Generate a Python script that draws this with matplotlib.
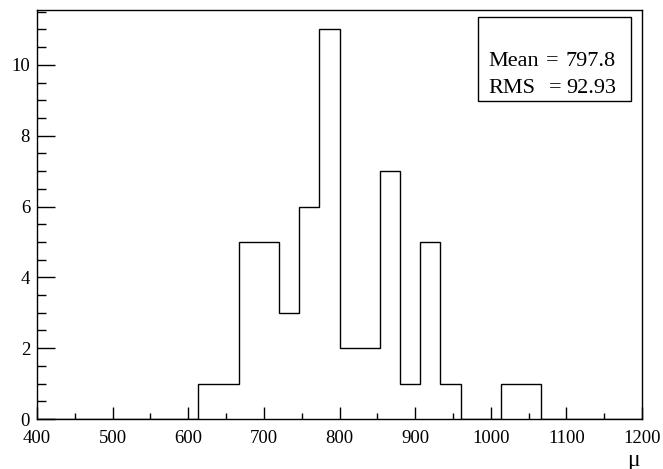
import numpy as np
import matplotlib
matplotlib.use("Agg")
import matplotlib.pyplot as plt
from matplotlib.ticker import MultipleLocator

plt.rcParams['font.family'] = ['Liberation Serif', 'DejaVu Serif']

# histogram: 30 bins from 400 to 1200
x_min = 400
x_max = 1200
n_bins = 30
counts = [0, 0, 0, 0, 0, 0, 0, 0, 1, 1,
          5, 5, 3, 6, 11, 2, 2, 7, 1, 5,
          1, 0, 0, 1, 1, 0, 0, 0, 0, 0]
stat_names = ["Mean", "RMS"]
stat_values = ["797.8", "92.93"]
x_label = "\u03bc"

edges = np.linspace(x_min, x_max, n_bins + 1)

W, H = 663, 469
PT = 0.72  # points per pixel at dpi 100

fig = plt.figure(figsize=(W / 100, H / 100), dpi=100)
ax = fig.add_axes([37/W, 1 - 419/H, (642-37)/W, (419-10)/H])

ax.stairs(counts, edges, color="black", linewidth=1.0)

ax.set_xlim(x_min, x_max)
ax.set_ylim(0, max(counts) * 1.05)

ax.xaxis.set_major_locator(MultipleLocator(100))
ax.xaxis.set_minor_locator(MultipleLocator(50))
ax.yaxis.set_major_locator(MultipleLocator(2))
ax.yaxis.set_minor_locator(MultipleLocator(0.5))
ax.tick_params(axis="both", which="both", direction="in", top=False, right=False,
               labelsize=13.5, width=1.0, color="black")
ax.tick_params(axis="x", which="major", length=12*PT, pad=8)
ax.tick_params(axis="x", which="minor", length=6*PT)
ax.tick_params(axis="y", which="major", length=18*PT, pad=5)
ax.tick_params(axis="y", which="minor", length=9*PT)
for s in ax.spines.values():
    s.set_linewidth(1.0)
    s.set_color("black")

fig.text(640/W, 1 - 460/H, x_label, fontsize=17, ha="right", va="center")

# stats box
box = plt.Rectangle((478/W, 1 - 101/H), (631-478)/W, (101-17)/H,
                    transform=fig.transFigure, fill=True, facecolor="white",
                    edgecolor="black", linewidth=1.0, zorder=5)
fig.add_artist(box)
ys = [61, 88]
eq_x = [552, 555]
for name, val, y, ex in zip(stat_names, stat_values, ys, eq_x):
    fig.text(488/W, 1 - y/H, name, fontsize=16, va="center", ha="left", zorder=6)
    fig.text(ex/W, 1 - y/H, "=", fontsize=16, va="center", ha="center", zorder=6)
    fig.text(616/W, 1 - y/H, val, fontsize=16, va="center", ha="right", zorder=6)

fig.savefig("out.png", dpi=100)
